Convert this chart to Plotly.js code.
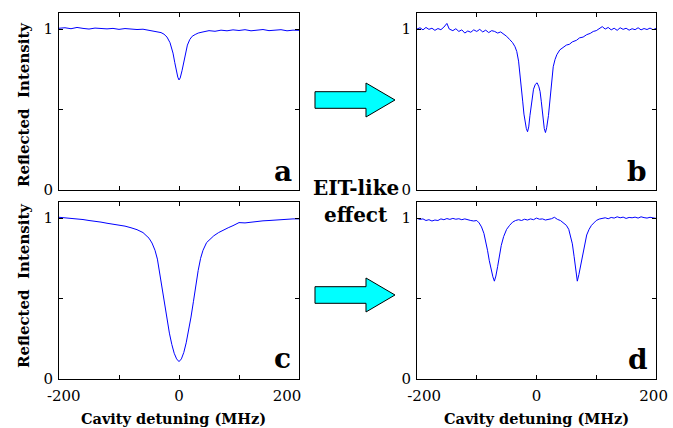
<!DOCTYPE html>
<html>
<head>
<meta charset="utf-8">
<script src="https://cdn.plot.ly/plotly-3.0.1.min.js"></script>
<style>
html,body{margin:0;padding:0;background:#fff;}
#chart{width:673px;height:428px;}
</style>
</head>
<body>
<div id="chart"></div>
<script>
// ---- Data (detuning in MHz, normalized reflected intensity) ----
const xA = [-200,-190,-180,-170,-160,-150,-140,-130,-120,-110,-100,-90,-80,-70,-60,-50,-40,-30,-25,-20,-15,-10,-7,-4,-2,0,2,5,8,11,14,18,22,27,32,40,50,60,70,80,90,100,110,120,130,140,150,160,170,180,190,200];
const yA = [1.005,1.008,1.002,1.010,1.004,1.000,1.006,1.003,1.001,1.004,0.998,1.003,1.000,0.997,0.999,0.993,0.988,0.978,0.968,0.950,0.915,0.850,0.790,0.730,0.700,0.683,0.695,0.740,0.800,0.855,0.900,0.935,0.955,0.966,0.975,0.982,0.990,0.986,0.993,0.989,0.995,0.991,0.996,0.989,0.994,0.997,0.990,0.993,0.996,0.989,0.993,0.992];

const xB = [-200,-195,-190,-185,-180,-175,-170,-165,-160,-155,-150,-146,-140,-135,-130,-125,-120,-115,-110,-105,-100,-95,-90,-85,-80,-75,-70,-65,-60,-55,-50,-45,-40,-36,-33,-30,-27.5,-25,-23,-21,-19,-17,-15,-13,-11,-8,-5,-2,1,4,6,8,10.5,13,15,17,20,22,24,26,28,31,34,39,45,50,55,60,67,72,78,84,90,95,100,105,110,115,120,125,130,135,140,145,150,155,160,165,170,175,180,185,190,195,200];
const yB = [1.000,1.008,0.995,1.010,0.998,1.005,0.992,1.003,0.996,1.012,1.035,1.000,0.990,1.002,0.985,0.995,0.975,0.988,0.980,0.995,0.985,0.998,0.982,0.993,0.978,0.990,0.985,0.975,0.982,0.968,0.955,0.935,0.915,0.890,0.860,0.800,0.720,0.630,0.546,0.470,0.420,0.380,0.360,0.390,0.460,0.550,0.625,0.655,0.665,0.640,0.610,0.550,0.460,0.380,0.355,0.385,0.460,0.550,0.630,0.700,0.765,0.810,0.840,0.870,0.885,0.900,0.905,0.920,0.930,0.945,0.950,0.965,0.973,0.985,0.990,1.000,1.015,1.000,1.010,0.995,1.005,0.992,1.008,0.998,1.005,0.993,1.002,0.996,1.008,0.995,1.003,0.997,1.006,0.996,1.004];

const xC = [-200,-190,-180,-170,-160,-150,-140,-130,-120,-110,-100,-90,-80,-70,-60,-50,-45,-40,-36,-32,-28,-24,-20,-16,-12,-8,-4,0,4,8,12,16,20,24,28,32,36,40,46,52,58,66,74,82,90,95,100,110,120,130,140,150,160,170,180,190,200];
const yC = [1.005,1.002,0.999,0.995,0.991,0.985,0.981,0.975,0.968,0.962,0.958,0.950,0.940,0.928,0.910,0.875,0.845,0.800,0.745,0.650,0.555,0.455,0.365,0.285,0.215,0.160,0.125,0.108,0.125,0.165,0.225,0.295,0.385,0.480,0.585,0.675,0.750,0.800,0.848,0.870,0.890,0.910,0.927,0.940,0.953,0.962,0.972,0.970,0.975,0.978,0.983,0.985,0.988,0.991,0.992,0.995,0.995];

const xD = [-200,-195,-190,-185,-180,-175,-170,-165,-160,-155,-150,-145,-140,-135,-130,-125,-120,-115,-110,-105,-100,-96,-92,-88,-85,-82,-79,-76,-73,-70.5,-68,-65,-62,-59,-55,-50,-45,-40,-35,-30,-25,-20,-15,-10,-5,0,5,10,15,20,25,30,35,40,45,50,54,57,60,63,65.5,68.3,71,74,77,80,84,88,92,96,100,105,110,115,120,125,130,135,140,145,150,155,160,165,170,175,180,185,190,195,200];
const yD = [0.998,0.992,0.995,0.985,0.990,0.982,0.988,0.985,0.995,0.990,0.997,0.992,0.998,0.993,0.996,0.990,0.995,0.988,0.985,0.982,0.985,0.970,0.945,0.905,0.860,0.800,0.735,0.680,0.635,0.608,0.640,0.700,0.770,0.830,0.885,0.930,0.955,0.975,0.985,0.990,0.985,0.993,0.988,0.995,0.990,1.000,0.993,0.995,0.988,0.990,0.996,1.005,0.992,0.985,0.972,0.955,0.930,0.890,0.840,0.760,0.690,0.608,0.650,0.710,0.780,0.840,0.895,0.930,0.955,0.970,0.985,0.994,0.998,1.002,0.996,1.004,1.000,1.008,1.002,1.006,0.998,1.004,1.002,1.006,1.000,1.008,1.003,1.000,1.005,1.002,0.998];

const xTickVals = [-200,-100,0,100,200];
const xTickTextC = ['\u00A0\u00A0-200','','0','','200\u00A0\u00A0\u00A0\u00A0\u00A0'];
const xTickTextD = ['\u00A0\u00A0\u00A0-200','','0','','200\u00A0'];
const yTickVals = [0,0.5,1];
const yTickText = ['0','','1'];
const panelLetters = ['a','b','c','d'];
const yTitle = 'Reflected\u00A0 Intensity';
const xTitle = 'Cavity detuning (MHz)';
const midText = ['EIT-like','effect'];

// ---- Layout helpers (pixel -> paper) ----
const W = 673, H = 428;
const px = x => x / W;
const py = y => 1 - y / H;
const SERIF = "'DejaVu Serif', serif";

const lineStyle = {color: '#0000FF', width: 1};
const traces = [
  {x: xA, y: yA, xaxis: 'x',  yaxis: 'y',  mode: 'lines', line: lineStyle},
  {x: xB, y: yB, xaxis: 'x2', yaxis: 'y2', mode: 'lines', line: lineStyle},
  {x: xC, y: yC, xaxis: 'x3', yaxis: 'y3', mode: 'lines', line: lineStyle},
  {x: xD, y: yD, xaxis: 'x4', yaxis: 'y4', mode: 'lines', line: lineStyle}
];

function xAxis(domain, anchor, ticktext) {
  return {
    domain: domain, anchor: anchor, range: [-200, 200],
    showline: true, linecolor: '#000', linewidth: 1, mirror: 'ticks',
    ticks: 'inside', ticklen: 4, tickcolor: '#000', tickwidth: 1,
    tickmode: 'array', tickvals: xTickVals, ticktext: ticktext || xTickVals.map(() => ''),
    showticklabels: !!ticktext, ticklabeloverflow: 'allow', ticklabelstandoff: 3,
    showgrid: false, zeroline: false,
    tickfont: {family: SERIF, size: 15, color: '#000'}
  };
}
function yAxis(domain, anchor) {
  return {
    domain: domain, anchor: anchor, range: [0, 1.1],
    showline: true, linecolor: '#000', linewidth: 1, mirror: 'ticks',
    ticks: 'inside', ticklen: 4, tickcolor: '#000', tickwidth: 1,
    tickmode: 'array', tickvals: yTickVals, ticktext: yTickText,
    ticklabeloverflow: 'allow', ticklabelstandoff: 2,
    showgrid: false, zeroline: false,
    tickfont: {family: SERIF, size: 15, color: '#000'}
  };
}

const colL = [px(59), px(299)];
const colR = [px(417), px(656)];
const rowT = [py(189.5), py(13)];
const rowB = [py(379), py(202)];

const annotations = [];
function ann(text, x, y, size, extra) {
  annotations.push(Object.assign({
    text: text, xref: 'paper', yref: 'paper', x: px(x), y: py(y),
    xanchor: 'center', yanchor: 'middle', showarrow: false,
    font: {family: SERIF, size: size, color: '#000', weight: 'bold'}
  }, extra || {}));
}
ann(panelLetters[0], 283, 171, 28);
ann(panelLetters[1], 637, 171, 28);
ann(panelLetters[2], 282, 358, 28);
ann(panelLetters[3], 638, 359, 28);
ann(yTitle, 24, 105, 15, {textangle: -90});
ann(yTitle, 24, 286, 15, {textangle: -90});
ann(xTitle, 173.5, 418, 14.5);
ann(xTitle, 536, 418, 14.5);
ann(midText[0], 356, 188, 20);
ann(midText[1], 356, 215, 20);

function arrowPath(x0, xh, xt, yc, bh, hh) {
  const pts = [[x0, yc - bh], [xh, yc - bh], [xh, yc - hh], [xt, yc], [xh, yc + hh], [xh, yc + bh], [x0, yc + bh]];
  return 'M' + pts.map(p => px(p[0]).toFixed(5) + ',' + py(p[1]).toFixed(5)).join('L') + 'Z';
}
const shapes = [
  {type: 'path', xref: 'paper', yref: 'paper', path: arrowPath(315, 366, 395, 100, 8.3, 17),
   fillcolor: '#00FFFF', line: {color: '#000', width: 1}},
  {type: 'path', xref: 'paper', yref: 'paper', path: arrowPath(315, 366, 395, 295, 8.3, 17),
   fillcolor: '#00FFFF', line: {color: '#000', width: 1}}
];

const layout = {
  width: W, height: H,
  margin: {l: 0, r: 0, t: 0, b: 0},
  paper_bgcolor: '#fff', plot_bgcolor: '#fff',
  showlegend: false,
  font: {family: SERIF},
  xaxis:  xAxis(colL, 'y'),
  yaxis:  yAxis(rowT, 'x'),
  xaxis2: xAxis(colR, 'y2'),
  yaxis2: yAxis(rowT, 'x2'),
  xaxis3: xAxis(colL, 'y3', xTickTextC),
  yaxis3: yAxis(rowB, 'x3'),
  xaxis4: xAxis(colR, 'y4', xTickTextD),
  yaxis4: yAxis(rowB, 'x4'),
  annotations: annotations,
  shapes: shapes
};

Plotly.newPlot('chart', traces, layout, {staticPlot: true, displayModeBar: false});
</script>
</body>
</html>
